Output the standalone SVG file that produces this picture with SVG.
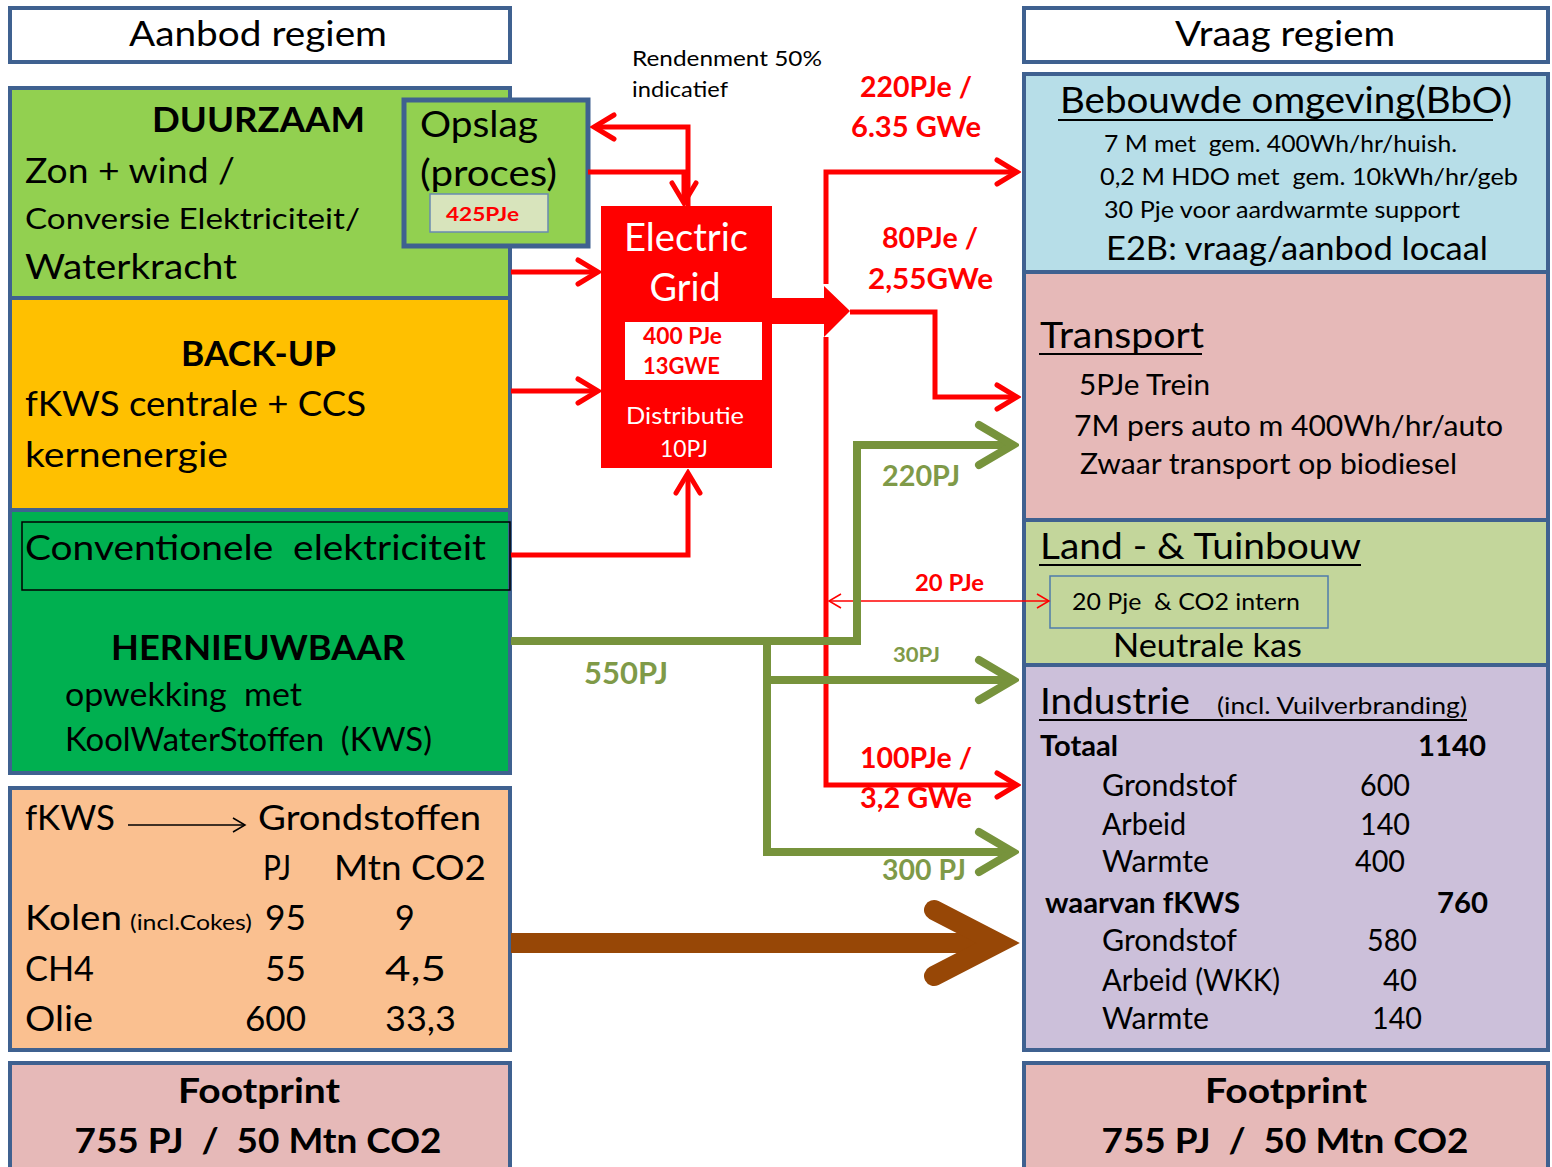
<svg xmlns="http://www.w3.org/2000/svg" width="1552" height="1167" viewBox="0 0 1552 1167">
<style>
text{font-family:Lato,"Open Sans","Liberation Sans",sans-serif;fill:#000;white-space:pre}
.box{stroke:#3F6190;stroke-width:4}
.b{font-weight:bold}
.w{fill:#fff}
.r{fill:#FF0000;font-weight:bold}
.g{fill:#7F9A48;font-weight:bold}
.ul{stroke:#000;stroke-width:2}
.red{stroke:#FF0000;stroke-width:5;fill:none}
.grn{stroke:#77933C;stroke-width:8;fill:none}
</style>
<defs>
<marker id="ar" markerUnits="userSpaceOnUse" viewBox="-26 -16 30 32" markerWidth="30" markerHeight="32" refX="0" refY="0" orient="auto">
<path d="M-20,-12 L0,0 L-20,12" fill="none" stroke="#FF0000" stroke-width="5" stroke-linecap="round"/>
</marker>
<marker id="ag" markerUnits="userSpaceOnUse" viewBox="-42 -28 48 56" markerWidth="48" markerHeight="56" refX="0" refY="0" orient="auto">
<path d="M-34,-20 L0,0 L-34,20" fill="none" stroke="#77933C" stroke-width="8" stroke-linecap="round"/>
</marker>
<marker id="at" markerUnits="userSpaceOnUse" viewBox="-14 -10 16 20" markerWidth="16" markerHeight="20" refX="0" refY="0" orient="auto-start-reverse">
<path d="M-12,-7 L0,0 L-12,7" fill="none" stroke="#FF0000" stroke-width="1.5"/>
</marker>
<marker id="ak" markerUnits="userSpaceOnUse" viewBox="-14 -10 16 20" markerWidth="16" markerHeight="20" refX="0" refY="0" orient="auto">
<path d="M-12,-7 L0,0 L-12,7" fill="none" stroke="#000" stroke-width="1.5"/>
</marker>
</defs>
<rect width="1552" height="1167" fill="#fff"/>

<g id="aanbod"><rect class="box" x="10" y="8" width="500" height="54" fill="#fff"/>
<text x="258" y="46" font-size="34" text-anchor="middle" textLength="258" lengthAdjust="spacingAndGlyphs">Aanbod regiem</text></g>
<g id="vraag"><rect class="box" x="1024" y="8" width="524" height="54" fill="#fff"/>
<text x="1285" y="46" font-size="34" text-anchor="middle" textLength="220" lengthAdjust="spacingAndGlyphs">Vraag regiem</text></g>

<g id="duurzaam"><rect class="box" x="10" y="88" width="500" height="210" fill="#92D050"/>
<text class="b" x="152" y="132" font-size="34" textLength="213" lengthAdjust="spacingAndGlyphs">DUURZAAM</text>
<text x="25" y="183" font-size="34" textLength="210" lengthAdjust="spacingAndGlyphs">Zon + wind /</text>
<text x="25" y="229" font-size="29" textLength="335" lengthAdjust="spacingAndGlyphs">Conversie Elektriciteit/</text>
<text x="25" y="279" font-size="34" textLength="212" lengthAdjust="spacingAndGlyphs">Waterkracht</text></g>

<g id="opslag"><rect x="404" y="100" width="184" height="146" fill="#92D050" stroke="#3F6190" stroke-width="5"/>
<text x="420" y="137" font-size="36" textLength="118" lengthAdjust="spacingAndGlyphs">Opslag</text>
<text x="420" y="186" font-size="36" textLength="137" lengthAdjust="spacingAndGlyphs">(proces)</text>
<rect x="430" y="194" width="118" height="38" fill="#D8E4BC" stroke="#6A8AB0" stroke-width="1.5"/>
<text class="r" x="446" y="221" font-size="19" textLength="73" lengthAdjust="spacingAndGlyphs">425PJe</text></g>

<g id="backup"><rect class="box" x="10" y="298" width="500" height="212" fill="#FFC000"/>
<text class="b" x="181" y="366" font-size="34" textLength="155" lengthAdjust="spacingAndGlyphs">BACK-UP</text>
<text x="25" y="416" font-size="34" textLength="341" lengthAdjust="spacingAndGlyphs">fKWS centrale + CCS</text>
<text x="25" y="467" font-size="34" textLength="203" lengthAdjust="spacingAndGlyphs">kernenergie</text></g>

<g id="hernieuwbaar"><rect class="box" x="10" y="510" width="500" height="263" fill="#00B050"/>
<rect x="22" y="522" width="488" height="68" fill="none" stroke="#000" stroke-width="1.5"/>
<text x="25" y="560" font-size="34" textLength="461" lengthAdjust="spacingAndGlyphs">Conventionele  elektriciteit</text>
<text class="b" x="111" y="660" font-size="34" textLength="294" lengthAdjust="spacingAndGlyphs">HERNIEUWBAAR</text>
<text x="65" y="706" font-size="32" textLength="237" lengthAdjust="spacingAndGlyphs">opwekking  met</text>
<text x="65" y="751" font-size="32" textLength="367" lengthAdjust="spacingAndGlyphs">KoolWaterStoffen  (KWS)</text></g>

<g id="fkws"><rect class="box" x="10" y="788" width="500" height="262" fill="#FAC090"/>
<text x="25" y="830" font-size="34" textLength="90" lengthAdjust="spacingAndGlyphs">fKWS</text>
<line x1="128" y1="825" x2="245" y2="825" stroke="#000" stroke-width="1.5" marker-end="url(#ak)"/>
<text x="258" y="830" font-size="34" textLength="223" lengthAdjust="spacingAndGlyphs">Grondstoffen</text>
<text x="263" y="880" font-size="34" textLength="28" lengthAdjust="spacingAndGlyphs">PJ</text>
<text x="334" y="880" font-size="34" textLength="152" lengthAdjust="spacingAndGlyphs">Mtn CO2</text>
<text x="25" y="930" font-size="34" textLength="97" lengthAdjust="spacingAndGlyphs">Kolen</text>
<text x="130" y="930" font-size="21" textLength="122" lengthAdjust="spacingAndGlyphs">(incl.Cokes)</text>
<text x="265" y="930" font-size="34" textLength="41" lengthAdjust="spacingAndGlyphs">95</text>
<text x="395" y="930" font-size="34">9</text>
<text x="25" y="981" font-size="34" textLength="69" lengthAdjust="spacingAndGlyphs">CH4</text>
<text x="265" y="981" font-size="34" textLength="41" lengthAdjust="spacingAndGlyphs">55</text>
<text x="385" y="981" font-size="34" textLength="61" lengthAdjust="spacingAndGlyphs">4,5</text>
<text x="25" y="1031" font-size="34" textLength="68" lengthAdjust="spacingAndGlyphs">Olie</text>
<text x="245" y="1031" font-size="34" textLength="61" lengthAdjust="spacingAndGlyphs">600</text>
<text x="385" y="1031" font-size="34" textLength="71" lengthAdjust="spacingAndGlyphs">33,3</text></g>

<g id="footprint-left"><rect class="box" x="10" y="1063" width="500" height="110" fill="#E6B9B8"/>
<text class="b" x="259" y="1103" font-size="34" text-anchor="middle" textLength="162" lengthAdjust="spacingAndGlyphs">Footprint</text>
<text class="b" x="258" y="1153" font-size="34" text-anchor="middle" textLength="367" lengthAdjust="spacingAndGlyphs">755 PJ  /  50 Mtn CO2</text></g>

<g id="bbo"><rect class="box" x="1024" y="74" width="524" height="198" fill="#B7DEE8"/>
<text x="1060" y="113" font-size="36" textLength="452" lengthAdjust="spacingAndGlyphs">Bebouwde omgeving(BbO)</text>
<line class="ul" x1="1058" y1="120" x2="1493" y2="120"/>
<text x="1104" y="152" font-size="24" textLength="353" lengthAdjust="spacingAndGlyphs">7 M met  gem. 400Wh/hr/huish.</text>
<text x="1100" y="185" font-size="24" textLength="418" lengthAdjust="spacingAndGlyphs">0,2 M HDO met  gem. 10kWh/hr/geb</text>
<text x="1104" y="218" font-size="24" textLength="356" lengthAdjust="spacingAndGlyphs">30 Pje voor aardwarmte support</text>
<text x="1106" y="260" font-size="32" textLength="382" lengthAdjust="spacingAndGlyphs">E2B: vraag/aanbod locaal</text></g>

<g id="transport"><rect class="box" x="1024" y="272" width="524" height="248" fill="#E6B9B8"/>
<text x="1040" y="348" font-size="36" textLength="164" lengthAdjust="spacingAndGlyphs">Transport</text>
<line class="ul" x1="1039" y1="354" x2="1202" y2="354"/>
<text x="1079" y="395" font-size="29" textLength="131" lengthAdjust="spacingAndGlyphs">5PJe Trein</text>
<text x="1074" y="436" font-size="29" textLength="429" lengthAdjust="spacingAndGlyphs">7M pers auto m 400Wh/hr/auto</text>
<text x="1080" y="474" font-size="29" textLength="377" lengthAdjust="spacingAndGlyphs">Zwaar transport op biodiesel</text></g>

<g id="land"><rect class="box" x="1024" y="520" width="524" height="145" fill="#C3D69B"/>
<text x="1040" y="559" font-size="36" textLength="321" lengthAdjust="spacingAndGlyphs">Land - &amp; Tuinbouw</text>
<line class="ul" x1="1039" y1="565" x2="1361" y2="565"/>
<rect x="1050" y="576" width="278" height="52" fill="none" stroke="#4F7CAC" stroke-width="1.5"/>
<text x="1072" y="610" font-size="24" textLength="228" lengthAdjust="spacingAndGlyphs">20 Pje  &amp; CO2 intern</text>
<text x="1113" y="657" font-size="32" textLength="189" lengthAdjust="spacingAndGlyphs">Neutrale kas</text></g>

<g id="industrie"><rect class="box" x="1024" y="665" width="524" height="385" fill="#CCC0DA"/>
<text x="1040" y="714" font-size="36" textLength="150" lengthAdjust="spacingAndGlyphs">Industrie</text>
<text x="1217" y="714" font-size="24" textLength="250" lengthAdjust="spacingAndGlyphs">(incl. Vuilverbranding)</text>
<line class="ul" x1="1039" y1="720" x2="1467" y2="720"/>
<text class="b" x="1040" y="756" font-size="28" textLength="78" lengthAdjust="spacingAndGlyphs">Totaal</text>
<text class="b" x="1418" y="756" font-size="28" textLength="68" lengthAdjust="spacingAndGlyphs">1140</text>
<text x="1102" y="796" font-size="30" textLength="135" lengthAdjust="spacingAndGlyphs">Grondstof</text>
<text x="1360" y="796" font-size="30" textLength="50" lengthAdjust="spacingAndGlyphs">600</text>
<text x="1102" y="835" font-size="30" textLength="84" lengthAdjust="spacingAndGlyphs">Arbeid</text>
<text x="1360" y="835" font-size="30" textLength="50" lengthAdjust="spacingAndGlyphs">140</text>
<text x="1102" y="872" font-size="30" textLength="107" lengthAdjust="spacingAndGlyphs">Warmte</text>
<text x="1355" y="872" font-size="30" textLength="50" lengthAdjust="spacingAndGlyphs">400</text>
<text class="b" x="1045" y="913" font-size="28" textLength="195" lengthAdjust="spacingAndGlyphs">waarvan fKWS</text>
<text class="b" x="1437" y="913" font-size="28" textLength="51" lengthAdjust="spacingAndGlyphs">760</text>
<text x="1102" y="951" font-size="30" textLength="135" lengthAdjust="spacingAndGlyphs">Grondstof</text>
<text x="1367" y="951" font-size="30" textLength="50" lengthAdjust="spacingAndGlyphs">580</text>
<text x="1102" y="991" font-size="30" textLength="178" lengthAdjust="spacingAndGlyphs">Arbeid (WKK)</text>
<text x="1383" y="991" font-size="30" textLength="34" lengthAdjust="spacingAndGlyphs">40</text>
<text x="1102" y="1029" font-size="30" textLength="107" lengthAdjust="spacingAndGlyphs">Warmte</text>
<text x="1372" y="1029" font-size="30" textLength="50" lengthAdjust="spacingAndGlyphs">140</text></g>

<g id="footprint-right"><rect class="box" x="1024" y="1063" width="524" height="110" fill="#E6B9B8"/>
<text class="b" x="1286" y="1103" font-size="34" text-anchor="middle" textLength="162" lengthAdjust="spacingAndGlyphs">Footprint</text>
<text class="b" x="1285" y="1153" font-size="34" text-anchor="middle" textLength="367" lengthAdjust="spacingAndGlyphs">755 PJ  /  50 Mtn CO2</text></g>

<g id="grid"><rect x="601" y="206" width="171" height="262" fill="#FF0000"/>
<text class="w" x="686" y="251" font-size="38" text-anchor="middle" textLength="124" lengthAdjust="spacingAndGlyphs">Electric</text>
<text class="w" x="685" y="301" font-size="38" text-anchor="middle" textLength="71" lengthAdjust="spacingAndGlyphs">Grid</text>
<rect x="625" y="322" width="137" height="58" fill="#fff"/>
<text class="r" x="643" y="344" font-size="22" textLength="79" lengthAdjust="spacingAndGlyphs">400 PJe</text>
<text class="r" x="643" y="374" font-size="22" textLength="77" lengthAdjust="spacingAndGlyphs">13GWE</text>
<text class="w" x="685" y="424" font-size="24" text-anchor="middle" textLength="118" lengthAdjust="spacingAndGlyphs">Distributie</text>
<text class="w" x="684" y="457" font-size="24" text-anchor="middle" textLength="48" lengthAdjust="spacingAndGlyphs">10PJ</text></g>

<g id="connectors">
<polyline class="red" points="688,206 688,127 594,127" marker-end="url(#ar)"/>
<polyline class="red" points="588,172 684,172 684,203" marker-end="url(#ar)"/>
<line class="red" x1="511" y1="272" x2="598" y2="272" marker-end="url(#ar)"/>
<line class="red" x1="511" y1="391" x2="598" y2="391" marker-end="url(#ar)"/>
<polyline class="red" points="511,555 688,555 688,473" marker-end="url(#ar)"/>
<path d="M772,298 L824,298 L824,286 L850,311 L824,337 L824,324 L772,324 Z" fill="#FF0000"/>
<polyline class="red" points="826,284 826,172 1017,172" marker-end="url(#ar)"/>
<polyline class="red" points="826,337 826,785 1017,785" marker-end="url(#ar)"/>
<polyline class="red" points="850,312 935,312 935,397 1017,397" marker-end="url(#ar)"/>
<line x1="829" y1="601" x2="1049" y2="601" stroke="#FF0000" stroke-width="1.5" marker-start="url(#at)" marker-end="url(#at)"/>
<polyline class="grn" points="511,641 857,641 857,445 1013,445" marker-end="url(#ag)"/>
<polyline class="grn" points="767,641 767,852 1013,852" marker-end="url(#ag)"/>
<line class="grn" x1="767" y1="680" x2="1013" y2="680" marker-end="url(#ag)"/>
<line x1="511" y1="943" x2="990" y2="943" stroke="#974706" stroke-width="20"/>
<path d="M934,910 L998,943 L934,976" fill="none" stroke="#974706" stroke-width="20" stroke-linecap="round" stroke-linejoin="miter"/>
</g>

<g id="labels">
<text x="632" y="66" font-size="22" textLength="190" lengthAdjust="spacingAndGlyphs">Rendenment 50%</text>
<text x="632" y="97" font-size="22" textLength="96" lengthAdjust="spacingAndGlyphs">indicatief</text>
<text class="r" x="860" y="97" font-size="28" textLength="112" lengthAdjust="spacingAndGlyphs">220PJe /</text>
<text class="r" x="851" y="137" font-size="28" textLength="130" lengthAdjust="spacingAndGlyphs">6.35 GWe</text>
<text class="r" x="882" y="248" font-size="28" textLength="96" lengthAdjust="spacingAndGlyphs">80PJe /</text>
<text class="r" x="868" y="289" font-size="28" textLength="125" lengthAdjust="spacingAndGlyphs">2,55GWe</text>
<text class="g" x="882" y="486" font-size="28" textLength="78" lengthAdjust="spacingAndGlyphs">220PJ</text>
<text class="r" x="915" y="591" font-size="22" textLength="69" lengthAdjust="spacingAndGlyphs">20 PJe</text>
<text class="g" x="893" y="662" font-size="20" textLength="47" lengthAdjust="spacingAndGlyphs">30PJ</text>
<text class="g" x="584" y="684" font-size="30" textLength="84" lengthAdjust="spacingAndGlyphs">550PJ</text>
<text class="r" x="860" y="768" font-size="28" textLength="112" lengthAdjust="spacingAndGlyphs">100PJe /</text>
<text class="r" x="860" y="808" font-size="28" textLength="112" lengthAdjust="spacingAndGlyphs">3,2 GWe</text>
<text class="g" x="882" y="880" font-size="28" textLength="84" lengthAdjust="spacingAndGlyphs">300 PJ</text>
</g>
</svg>
